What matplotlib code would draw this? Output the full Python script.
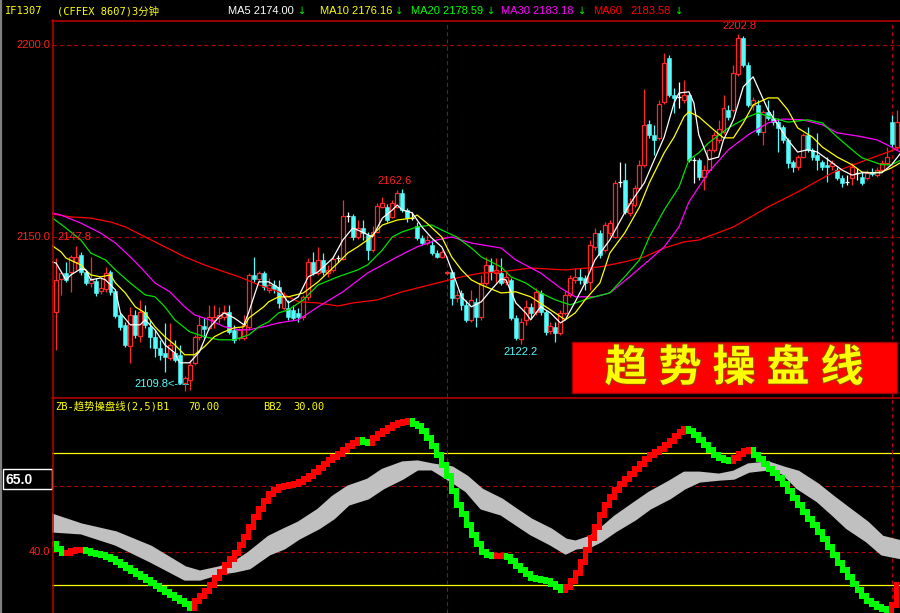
import matplotlib
matplotlib.use("Agg")
import matplotlib.pyplot as plt
from matplotlib.patches import Rectangle
from matplotlib.lines import Line2D
import matplotlib.patheffects as pe
import numpy as np

plt.rcParams['lines.scale_dashes'] = False

# ---------------- price bars (IF1307, 3-minute) ----------------
opens = [2130.5, 2139.1, 2140.6, 2140.9, 2143.5, 2145.3, 2140.9, 2138.0, 2138.5, 2135.9,
         2136.5, 2140.9, 2135.9, 2129.7, 2127.1, 2121.6, 2129.7, 2124.2, 2130.5, 2126.6,
         2124.0, 2121.1, 2119.8, 2118.5, 2119.8, 2119.3, 2112.0, 2112.8, 2117.2, 2124.0,
         2126.8, 2126.3, 2128.4, 2128.9, 2129.2, 2130.5, 2125.8, 2123.7, 2123.7, 2126.6,
         2140.1, 2139.1, 2140.6, 2136.2, 2137.5, 2137.0, 2131.5, 2131.5, 2131.0, 2130.2,
         2129.2, 2134.4, 2143.5, 2140.6, 2144.0, 2140.6, 2141.4, 2144.5, 2144.3, 2155.5,
         2155.5, 2150.0, 2152.3, 2150.5, 2146.6, 2151.3, 2157.8, 2157.8, 2155.2, 2157.8,
         2161.5, 2157.0, 2155.0, 2152.9, 2149.7, 2148.4, 2147.9, 2145.8, 2144.8, 2140.6,
         2140.9, 2134.1, 2135.4, 2132.3, 2128.4, 2133.1, 2129.2, 2138.0, 2142.7, 2140.6,
         2140.6, 2138.3, 2138.8, 2128.9, 2123.4, 2128.4, 2131.8, 2130.5, 2135.4, 2130.5,
         2125.5, 2126.6, 2125.0, 2130.2, 2134.9, 2138.8, 2139.6, 2139.3, 2138.3, 2147.4,
         2151.0, 2146.6, 2151.0, 2150.0, 2164.3, 2164.8, 2156.3, 2158.3, 2162.8, 2168.8,
         2179.4, 2176.6, 2175.8, 2185.2, 2196.6, 2187.0, 2186.5, 2185.7, 2187.0, 2170.1,
         2170.1, 2165.6, 2167.4, 2172.7, 2175.3, 2177.3, 2183.1, 2183.1, 2192.4, 2201.8,
         2194.8, 2184.4, 2184.4, 2177.3, 2182.6, 2181.0, 2180.0, 2178.6, 2175.3, 2169.5,
         2168.2, 2170.8, 2176.6, 2172.7, 2171.4, 2169.5, 2168.8, 2168.5, 2167.4, 2165.4,
         2164.3, 2165.4, 2166.6, 2165.6, 2165.4, 2166.9, 2166.1, 2167.4, 2169.3, 2180.0,
         2173.4]
highs = [2144.5, 2140.9, 2143.5, 2145.3, 2147.7, 2146.1, 2141.4, 2144.8, 2139.3, 2139.3,
         2142.2, 2141.4, 2136.2, 2130.5, 2127.9, 2131.8, 2131.0, 2133.6, 2132.3, 2128.4,
         2125.8, 2123.2, 2127.6, 2127.6, 2123.2, 2121.9, 2113.8, 2118.0, 2124.5, 2129.7,
         2128.9, 2132.3, 2132.3, 2131.8, 2132.3, 2132.3, 2127.1, 2126.3, 2129.7, 2140.6,
         2144.8, 2141.1, 2141.1, 2139.3, 2138.8, 2138.8, 2135.7, 2133.6, 2132.3, 2131.5,
         2134.9, 2144.5, 2146.1, 2147.4, 2145.8, 2142.7, 2145.0, 2145.3, 2159.6, 2156.5,
         2156.0, 2154.4, 2154.4, 2151.3, 2152.9, 2158.9, 2160.4, 2158.6, 2159.6, 2162.2,
         2162.6, 2157.6, 2156.5, 2153.9, 2150.5, 2150.5, 2149.2, 2146.6, 2146.6, 2141.1,
         2141.4, 2136.2, 2136.2, 2133.6, 2136.2, 2134.1, 2140.1, 2144.8, 2144.5, 2144.5,
         2144.5, 2140.9, 2139.3, 2129.7, 2128.9, 2133.6, 2132.8, 2136.7, 2136.2, 2131.0,
         2127.9, 2127.9, 2131.0, 2136.2, 2140.1, 2141.9, 2141.9, 2140.1, 2149.2, 2152.3,
         2151.8, 2153.9, 2154.4, 2164.8, 2169.5, 2169.3, 2160.2, 2163.5, 2170.1, 2188.5,
         2180.5, 2179.2, 2185.7, 2197.9, 2197.4, 2188.8, 2190.4, 2190.9, 2187.5, 2170.8,
         2170.6, 2168.8, 2173.2, 2177.3, 2180.5, 2187.0, 2184.4, 2194.8, 2202.8, 2202.3,
         2195.6, 2186.5, 2185.7, 2183.1, 2185.7, 2183.1, 2181.0, 2179.2, 2175.8, 2170.1,
         2171.4, 2177.1, 2178.6, 2173.2, 2177.1, 2170.1, 2170.8, 2170.1, 2168.2, 2166.1,
         2166.1, 2169.3, 2168.0, 2166.9, 2167.4, 2168.0, 2168.2, 2170.1, 2173.4, 2181.8,
         2183.1]
lows = [2120.6, 2134.9, 2138.3, 2135.7, 2141.4, 2140.1, 2137.5, 2137.0, 2134.6, 2135.2,
        2135.7, 2134.9, 2128.9, 2125.8, 2121.4, 2117.2, 2123.7, 2122.7, 2126.3, 2121.1,
        2118.8, 2118.0, 2114.9, 2118.0, 2117.5, 2111.7, 2109.8, 2110.2, 2116.7, 2123.2,
        2123.7, 2125.8, 2126.3, 2127.6, 2128.4, 2124.7, 2122.4, 2123.2, 2123.2, 2125.8,
        2138.3, 2138.3, 2136.2, 2135.4, 2135.4, 2131.5, 2131.0, 2128.4, 2128.4, 2127.9,
        2128.4, 2133.6, 2140.1, 2140.1, 2140.1, 2139.6, 2140.9, 2143.5, 2144.0, 2153.9,
        2149.2, 2149.5, 2149.2, 2144.0, 2146.1, 2151.0, 2157.6, 2153.9, 2155.0, 2157.6,
        2156.5, 2153.9, 2154.4, 2149.2, 2147.9, 2147.9, 2145.3, 2144.5, 2144.5, 2140.1,
        2132.3, 2133.1, 2131.0, 2127.9, 2127.9, 2126.6, 2128.4, 2137.5, 2138.8, 2138.0,
        2137.5, 2137.5, 2128.4, 2123.2, 2122.2, 2127.1, 2128.9, 2129.7, 2129.7, 2124.5,
        2124.7, 2122.7, 2124.5, 2129.7, 2134.4, 2138.0, 2137.8, 2136.2, 2136.2, 2146.6,
        2144.5, 2146.1, 2150.3, 2149.7, 2163.0, 2156.0, 2155.5, 2157.8, 2162.2, 2168.2,
        2175.8, 2171.4, 2175.3, 2184.6, 2186.5, 2182.3, 2183.6, 2184.9, 2169.5, 2164.1,
        2164.8, 2162.2, 2166.9, 2172.1, 2174.5, 2176.8, 2180.5, 2182.6, 2191.9, 2194.3,
        2183.9, 2183.1, 2176.6, 2174.0, 2180.5, 2179.2, 2172.1, 2174.5, 2168.0, 2166.9,
        2167.4, 2170.6, 2172.1, 2170.1, 2167.4, 2167.4, 2164.3, 2167.4, 2164.8, 2163.0,
        2163.5, 2163.5, 2164.8, 2163.5, 2164.8, 2165.9, 2165.6, 2166.9, 2168.8, 2173.4,
        2172.7]
closes = [2138.8, 2140.6, 2138.8, 2144.8, 2144.8, 2140.9, 2138.0, 2138.8, 2135.4, 2136.7,
          2140.6, 2135.7, 2129.4, 2126.6, 2121.9, 2129.7, 2124.5, 2130.5, 2127.1, 2124.0,
          2121.1, 2119.3, 2118.8, 2121.9, 2118.0, 2112.0, 2113.3, 2116.7, 2124.0, 2127.1,
          2126.0, 2129.2, 2129.2, 2129.7, 2130.5, 2125.3, 2123.2, 2125.8, 2127.1, 2140.1,
          2139.1, 2140.6, 2137.0, 2137.5, 2136.5, 2132.8, 2134.4, 2129.2, 2128.9, 2129.2,
          2134.4, 2143.5, 2140.6, 2144.0, 2140.9, 2141.4, 2144.3, 2144.5, 2155.5, 2155.5,
          2150.0, 2152.3, 2151.0, 2146.6, 2151.3, 2158.1, 2158.9, 2154.4, 2158.9, 2161.5,
          2157.0, 2154.9, 2155.0, 2149.7, 2148.4, 2149.2, 2145.8, 2144.8, 2146.1, 2140.8,
          2134.1, 2134.9, 2132.3, 2128.4, 2133.6, 2129.2, 2138.0, 2142.7, 2140.9, 2141.4,
          2138.0, 2139.6, 2128.9, 2123.7, 2127.9, 2131.8, 2130.2, 2135.7, 2130.5, 2125.3,
          2126.8, 2125.0, 2130.2, 2134.9, 2139.3, 2139.6, 2138.8, 2138.0, 2147.9, 2151.0,
          2145.3, 2153.1, 2153.6, 2164.1, 2164.3, 2156.5, 2158.9, 2162.8, 2168.8, 2179.2,
          2176.6, 2175.3, 2184.6, 2195.3, 2187.0, 2186.2, 2186.5, 2187.0, 2170.1, 2170.1,
          2165.6, 2167.4, 2172.7, 2176.6, 2178.1, 2183.6, 2181.3, 2192.7, 2201.8, 2194.8,
          2184.4, 2185.7, 2177.3, 2182.6, 2181.0, 2180.0, 2178.4, 2175.3, 2169.3, 2168.2,
          2170.8, 2176.6, 2172.7, 2170.8, 2170.1, 2168.2, 2168.2, 2169.3, 2165.4, 2164.1,
          2164.3, 2168.2, 2166.6, 2164.1, 2166.7, 2166.4, 2167.4, 2169.3, 2170.8, 2174.2,
          2180.0]

# ---------------- moving averages (bar index, value) ----------------
ma5_bars = [-1, 0, 2, 3, 5, 6, 7, 9, 10, 12, 13, 15, 17, 18, 20, 22, 24, 25, 27, 29,
            31, 33, 34, 36, 38, 39, 41, 43, 45, 47, 49, 51, 53, 56, 58, 60, 61, 64, 66, 68,
            69, 70, 72, 74, 76, 78, 79, 81, 82, 84, 86, 88, 90, 91, 93, 95, 96, 98, 100, 102,
            103, 105, 107, 109, 112, 115, 117, 119, 121, 123, 125, 126, 128, 129, 130, 132,
            134, 135, 137, 139, 141, 142, 144, 146, 148, 150, 152, 154, 157, 159, 161, 163,
            165, 167, 169, 171]
ma5_vals = [2143.5, 2143.2, 2138.8, 2140.1, 2141.7, 2141.4, 2138.8, 2139.3, 2138.8, 2136.2,
            2130.2, 2127.1, 2127.1, 2128.4, 2125.8, 2121.9, 2119.8, 2117.2, 2117.2, 2120.1,
            2126.3, 2129.2, 2130.2, 2128.9, 2127.1, 2130.5, 2138.3, 2138.3, 2136.7, 2132.8,
            2134.4, 2139.6, 2140.9, 2144.5, 2149.2, 2152.3, 2151.8, 2150.0, 2154.9, 2157.0,
            2158.3, 2157.0, 2156.3, 2152.6, 2149.7, 2147.4, 2144.8, 2138.0, 2134.4, 2131.8,
            2133.1, 2136.2, 2139.1, 2138.8, 2132.8, 2130.2, 2128.4, 2131.8, 2130.2, 2127.6,
            2128.4, 2133.1, 2138.0, 2144.0, 2149.2, 2156.3, 2160.4, 2164.1, 2170.1, 2176.0,
            2184.9, 2187.5, 2187.8, 2184.9, 2176.6, 2170.1, 2170.8, 2175.3, 2180.5, 2189.1,
            2191.7, 2188.8, 2183.1, 2179.2, 2175.3, 2172.1, 2172.7, 2172.1, 2169.3, 2167.4,
            2166.1, 2166.7, 2166.7, 2166.7, 2168.8, 2172.1]

ma10_bars = [-1, 1, 2, 5, 7, 9, 11, 12, 14, 16, 18, 20, 22, 24, 26, 28, 30, 32, 34, 36,
             38, 39, 42, 43, 45, 47, 50, 53, 57, 59, 61, 63, 66, 69, 72, 73, 75, 78, 80, 82,
             84, 86, 90, 93, 96, 100, 103, 105, 107, 110, 112, 115, 118, 120, 123, 125, 127,
             128, 130, 133, 135, 137, 139, 141, 144, 146, 148, 150, 153, 155, 158, 161, 163,
             165, 167, 169, 171]
ma10_vals = [2147.9, 2146.1, 2144.5, 2142.7, 2140.1, 2139.6, 2140.1, 2138.0, 2135.4, 2131.8,
             2130.2, 2126.6, 2124.0, 2121.9, 2119.3, 2119.3, 2121.4, 2124.0, 2125.3, 2126.3,
             2126.6, 2128.9, 2131.8, 2133.1, 2134.4, 2134.4, 2135.4, 2138.3, 2143.2, 2145.8,
             2147.4, 2149.2, 2153.1, 2154.4, 2154.9, 2155.7, 2153.6, 2150.0, 2144.8, 2141.4,
             2138.8, 2137.5, 2135.4, 2135.7, 2134.4, 2131.0, 2128.4, 2130.2, 2133.6, 2138.0,
             2145.8, 2151.0, 2157.8, 2164.1, 2171.9, 2176.0, 2181.3, 2182.6, 2181.3, 2177.9,
             2175.8, 2175.8, 2179.7, 2184.4, 2186.2, 2186.2, 2183.1, 2178.4, 2176.0, 2173.4,
             2170.8, 2168.8, 2166.9, 2166.7, 2166.9, 2168.0, 2169.5]

ma20_bars = [-1, 2, 5, 7, 10, 12, 15, 18, 20, 22, 24, 27, 30, 33, 36, 39, 41, 43, 45, 47,
             50, 53, 57, 61, 63, 66, 68, 70, 73, 76, 78, 81, 84, 86, 90, 92, 95, 98, 101, 104,
             108, 112, 115, 118, 120, 123, 126, 128, 130, 132, 136, 140, 142, 145, 148, 152,
             155, 158, 161, 163, 167, 169, 171]
ma20_vals = [2155.2, 2152.3, 2149.2, 2145.8, 2144.0, 2141.4, 2138.0, 2134.9, 2134.4, 2131.8,
             2128.4, 2125.3, 2124.0, 2123.2, 2123.2, 2124.5, 2126.6, 2127.9, 2130.2, 2131.0,
             2133.6, 2137.5, 2139.6, 2141.4, 2142.7, 2146.6, 2150.0, 2151.3, 2152.6, 2153.1,
             2151.8, 2150.0, 2147.1, 2144.8, 2142.2, 2139.6, 2138.0, 2135.4, 2133.6, 2132.3,
             2134.1, 2135.4, 2139.6, 2144.0, 2150.0, 2157.0, 2163.0, 2170.1, 2171.9, 2174.5,
             2178.4, 2181.3, 2182.3, 2181.0, 2179.9, 2180.5, 2179.7, 2176.0, 2172.7, 2170.6,
             2168.8, 2168.8, 2170.1]

ma30_bars = [-1, 1, 5, 9, 12, 15, 17, 20, 23, 26, 28, 31, 34, 37, 39, 42, 45, 49, 53, 58,
             63, 69, 73, 77, 80, 84, 90, 93, 98, 102, 105, 109, 112, 116, 120, 123, 126, 128,
             130, 132, 136, 140, 144, 147, 151, 155, 158, 162, 166, 169, 171]
ma30_vals = [2156.3, 2155.7, 2153.6, 2151.0, 2148.4, 2144.8, 2142.2, 2138.0, 2135.7, 2131.8,
             2129.7, 2128.4, 2126.6, 2125.8, 2125.8, 2126.6, 2127.6, 2128.4, 2131.8, 2135.7,
             2140.6, 2144.8, 2147.4, 2149.2, 2150.0, 2148.4, 2147.1, 2144.0, 2140.6, 2136.7,
             2134.4, 2134.4, 2135.4, 2139.6, 2144.0, 2147.4, 2152.6, 2159.1, 2163.0, 2166.9,
             2172.7, 2176.6, 2179.7, 2180.7, 2180.5, 2179.2, 2177.1, 2176.3, 2175.3, 2173.4,
             2171.9]

ma60_bars = [-1, 3, 7, 11, 14, 18, 22, 26, 30, 34, 37, 41, 45, 49, 53, 57, 60, 65, 70, 74,
             78, 82, 86, 90, 96, 103, 110, 115, 119, 123, 127, 130, 137, 144, 150, 157, 164, 171]
ma60_vals = [2156.0, 2155.2, 2154.9, 2153.9, 2152.6, 2150.0, 2147.4, 2144.8, 2142.7, 2140.9,
             2139.6, 2137.5, 2135.7, 2133.1, 2132.8, 2132.0, 2132.8, 2133.6, 2135.7, 2137.0,
             2138.3, 2139.6, 2140.6, 2140.9, 2141.9, 2141.4, 2142.2, 2143.5, 2144.8, 2147.1,
             2148.7, 2149.2, 2152.6, 2157.8, 2161.7, 2166.7, 2170.1, 2173.4]

# ---------------- ZB trend indicator ----------------
# trend line, one value per bar starting at bar -1
trend_vals = [42.4, 40.9, 39.7, 39.7, 40.3, 40.6, 40.6, 40.3, 39.7, 39.4, 39.1,
              38.5, 37.9, 37.0, 36.0, 35.2, 34.2, 33.3, 32.4, 31.5, 30.6,
              29.7, 28.8, 27.9, 27.0, 26.1, 25.2, 24.2, 23.0, 25.0, 26.7,
              28.2, 30.0, 32.1, 34.0, 36.0, 37.8, 39.7, 42.0, 44.5, 47.5,
              50.6, 53.0, 55.5, 57.6, 58.8, 59.7, 60.0, 60.3, 60.6, 61.2,
              62.1, 63.0, 64.2, 65.5, 66.7, 67.9, 68.8, 69.7, 70.9, 72.0,
              73.0, 73.9, 73.3, 73.0, 74.5, 75.8, 76.7, 77.6, 78.5, 79.1,
              79.4, 79.7, 78.8, 78.2, 76.7, 74.5, 72.0, 69.4, 66.4, 63.0,
              58.5, 54.2, 51.5, 48.2, 45.2, 42.4, 40.0, 39.1, 38.8, 38.8,
              38.8, 38.5, 37.3, 35.8, 34.5, 33.3, 32.1, 31.8, 31.5, 31.2,
              30.3, 29.4, 28.5, 29.4, 31.2, 33.6, 37.0, 40.6, 44.2, 47.6,
              51.2, 54.2, 56.7, 58.8, 60.6, 62.1, 63.6, 65.2, 66.7, 68.2,
              69.4, 70.3, 71.2, 72.4, 73.6, 75.2, 76.4, 77.3, 76.7, 75.5,
              74.0, 72.4, 70.9, 69.4, 68.5, 67.9, 67.6, 68.5, 69.7, 70.6,
              70.9, 69.4, 68.2, 66.7, 65.2, 63.9, 62.4, 60.6, 58.5, 56.4,
              54.2, 52.1, 50.0, 48.2, 46.1, 43.9, 41.5, 39.1, 36.7, 34.5,
              32.4, 30.3, 28.5, 26.7, 25.2, 24.2, 23.3, 22.7, 22.4, 23.9,
              30.0]
band_bars = [-1, 5, 12, 19, 26, 29, 33, 36, 39, 43, 46, 49, 53, 56, 59, 63, 66, 70, 73, 76,
             80, 83, 86, 90, 93, 96, 100, 103, 105, 108, 110, 113, 117, 120, 124, 127, 130,
             134, 137, 140, 144, 147, 150, 154, 157, 160, 164, 167, 171]
band_upper = [51.2, 48.2, 45.8, 41.5, 35.2, 33.9, 35.2, 36.7, 39.7, 44.5, 46.7, 48.8, 52.7,
              56.7, 59.7, 61.8, 64.8, 67.0, 67.3, 66.4, 65.5, 62.7, 58.8, 55.8, 52.7, 49.7,
              46.7, 43.6, 43.0, 44.5, 46.7, 50.6, 54.8, 57.9, 61.2, 63.9, 63.9, 63.3, 64.2,
              66.4, 67.0, 65.5, 64.2, 60.3, 56.7, 53.3, 48.8, 44.5, 43.0]
band_lower = [46.7, 46.1, 42.7, 37.6, 32.1, 32.1, 33.9, 34.5, 35.5, 39.7, 41.5, 44.5, 47.6,
              50.6, 54.8, 56.7, 59.7, 62.7, 65.5, 65.5, 61.8, 58.8, 53.6, 51.8, 48.8, 45.8,
              42.7, 40.0, 41.5, 42.1, 43.6, 46.7, 50.3, 53.6, 56.7, 59.7, 61.8, 62.4, 62.7,
              64.8, 65.5, 64.2, 59.7, 55.8, 51.8, 47.6, 43.6, 39.7, 38.5]

price_ticks = [2200.0, 2150.0]
ind_ticks = [60.0, 40.0]
ind_levels = [70.0, 30.0]
day_breaks = [79, 169]

# ---------------- colours ----------------
BG = 'black'
UP = '#ff2828'
DOWN = '#54fcfc'
FRAME = '#c00000'
GRID = '#b00000'
LBL = '#ff2020'
NUM = ['Liberation Sans', 'DejaVu Sans']
MONO = ['DejaVu Sans Mono', 'Noto Sans CJK SC']

W, H = 900, 613
fig = plt.figure(figsize=(W / 100, H / 100), dpi=100, facecolor=BG)


def fx(px):
    return px / W


def fy(py):
    return 1 - py / H


ax = fig.add_axes([fx(52), fy(397), fx(900) - fx(52), fy(20) - fy(397)])
ax2 = fig.add_axes([fx(52), fy(613), fx(900) - fx(52), fy(397) - fy(613)])
for a in (ax, ax2):
    a.set_facecolor(BG)
    a.set_xlim(-0.83, 170.7)
    a.set_xticks([])
    a.set_yticks([])
    for s in a.spines.values():
        s.set_visible(False)
ax.set_ylim(2108.3, 2206.5)
ax2.set_ylim(21.5, 87.0)

dash = (0, (3.0, 2.2))
# grid
for v in price_ticks:
    ax.axhline(v, color=GRID, lw=0.8, ls=dash, zorder=1)
for v in ind_ticks:
    ax2.axhline(v, color=GRID, lw=0.8, ls=dash, zorder=1)
for v in ind_levels:
    ax2.axhline(v, color='#ffff00', lw=0.9, zorder=1)
for b in day_breaks:
    ax.axvline(b, color=GRID, lw=0.8, ls=dash, zorder=1)
    ax2.axvline(b, color=GRID, lw=0.8, ls=dash, zorder=1)

# candles
bw = 0.8
for i in range(len(closes)):
    o, h, l, c = opens[i], highs[i], lows[i], closes[i]
    if c > o:
        ax.vlines(i, c, h, color=UP, lw=0.9, zorder=3)
        ax.vlines(i, l, o, color=UP, lw=0.9, zorder=3)
        ax.add_patch(Rectangle((i - bw / 2, o), bw, c - o, facecolor=BG,
                               edgecolor=UP, lw=0.9, zorder=3))
    elif c < o:
        ax.vlines(i, l, h, color=DOWN, lw=0.9, zorder=3)
        ax.add_patch(Rectangle((i - bw / 2, c), bw, o - c, facecolor=DOWN,
                               edgecolor=DOWN, lw=0.4, zorder=3))
    else:
        ax.vlines(i, l, h, color='white', lw=0.9, zorder=3)
        ax.hlines(c, i - bw / 2, i + bw / 2, color='white', lw=0.9, zorder=3)

# moving averages
ax.plot(ma60_bars, ma60_vals, color='#ff0000', lw=0.9, zorder=4)
ax.plot(ma30_bars, ma30_vals, color='#ff00ff', lw=0.9, zorder=4)
ax.plot(ma20_bars, ma20_vals, color='#00e000', lw=0.9, zorder=4)
ax.plot(ma10_bars, ma10_vals, color='#ffff00', lw=0.9, zorder=4)
ax.plot(ma5_bars, ma5_vals, color='#ffffff', lw=0.9, zorder=4)

# indicator: grey band and stepped trend line
ax2.fill_between(band_bars, band_lower, band_upper, facecolor='#c0c0c0',
                 edgecolor='#c0c0c0', lw=3.0, zorder=2)
tb = np.arange(-1, len(trend_vals) - 1)
tv = np.array(trend_vals)
prev = np.concatenate([[tv[0]], tv[:-1]])
lo = np.minimum(prev, tv) - 0.9
hi = np.maximum(prev, tv) + 0.9
cols = ['#ff0000' if cur >= p else '#00ff00' for cur, p in zip(tv, prev)]
ax2.bar(tb, hi - lo, bottom=lo, width=1.0, color=cols, lw=0, zorder=3)

# frame lines
fig.add_artist(Line2D([fx(52), fx(900)], [fy(20.5), fy(20.5)], color=FRAME, lw=1.1))
fig.add_artist(Line2D([fx(52), fx(900)], [fy(397.5), fy(397.5)], color=FRAME, lw=1.1))
fig.add_artist(Line2D([fx(52.5), fx(52.5)], [fy(20), fy(613)], color=FRAME, lw=1.1))
fig.add_artist(Line2D([fx(1), fx(1)], [fy(0), fy(613)], color='#808080', lw=1.6))

# axis labels
for v in price_ticks:
    ax.annotate(f'{v:.1f}', (0, v), xycoords=('axes fraction', 'data'),
                xytext=(-2, 0), textcoords='offset pixels', ha='right', va='center',
                color=LBL, fontsize=8, family=NUM)
for v in ind_ticks:
    ax2.annotate(f'{v:.1f}', (0, v), xycoords=('axes fraction', 'data'),
                 xytext=(-2, 0), textcoords='offset pixels', ha='right', va='center',
                 color=LBL, fontsize=8, family=NUM)

# value box over the indicator scale
fig.add_artist(Rectangle((fx(3), fy(489)), fx(49), fy(469) - fy(489), facecolor='black',
                         edgecolor='white', lw=1.0, transform=fig.transFigure))
fig.text(fx(5), fy(479.5), '65.0', color='white', fontsize=10, fontweight='bold',
         family=NUM, ha='left', va='center')

# price annotations
ax.annotate('2202.8', (138, 2202.8), xytext=(1, 8), textcoords='offset pixels',
            ha='center', va='center', color=LBL, fontsize=8, family=NUM)
ax.annotate('2162.6', (70, 2162.6), xytext=(-8, 8), textcoords='offset pixels',
            ha='center', va='center', color=LBL, fontsize=8, family=NUM)
ax.annotate('2122.2', (94, 2122.2), xytext=(0, -8), textcoords='offset pixels',
            ha='center', va='center', color=DOWN, fontsize=8, family=NUM)
ax.annotate('2109.8<----', (26, 2109.8), xytext=(5, 7), textcoords='offset pixels',
            ha='right', va='center', color=DOWN, fontsize=8, family=NUM)
fig.text(fx(57), fy(237), '2147.8', color=LBL, fontsize=8, family=NUM,
         ha='left', va='center')

# header line
hy = fy(11)
fig.text(fx(5), hy, 'IF1307', color='#ffff00', fontsize=7.5, family=MONO, va='center')
fig.text(fx(57), hy, '(CFFEX 8607)3分钟', color='#ffff00', fontsize=7.5, family=MONO,
         va='center')
heads = [(228, 'MA5 2174.00', '#ffffff', 298),
         (320, 'MA10 2176.16', '#ffff00', 395),
         (411, 'MA20 2178.59', '#00ff00', 487),
         (501, 'MA30 2183.18', '#ff00ff', 578)]
for x0, s, c, xa in heads:
    fig.text(fx(x0), hy, s, color=c, fontsize=8, family=NUM, va='center')
    fig.text(fx(xa), hy, '↓', color='#00ff00', fontsize=7, family=['DejaVu Sans'],
             va='center')
fig.text(fx(593), hy, 'MA60', color='#ff0000', fontsize=8, family=NUM, va='center')
fig.text(fx(630), hy, '2183.58', color='#ff0000', fontsize=8, family=NUM, va='center')
fig.text(fx(675), hy, '↓', color='#00ff00', fontsize=7, family=['DejaVu Sans'],
         va='center')

# indicator header
iy = fy(406.5)
fig.text(fx(55), iy, 'ZB-趋势操盘线(2,5)B1', color='#ffff00', fontsize=7.5,
         family=MONO, va='center')
fig.text(fx(188), iy, '70.00', color='#ffff00', fontsize=7.5, family=MONO, va='center')
fig.text(fx(263), iy, 'BB2', color='#ffff00', fontsize=7.5, family=MONO, va='center')
fig.text(fx(293), iy, '30.00', color='#ffff00', fontsize=7.5, family=MONO, va='center')

# title plate
fig.add_artist(Rectangle((fx(572), fy(393)), fx(325), fy(342) - fy(393), facecolor='#ff0000',
                         edgecolor='#a00000', lw=1.0, transform=fig.transFigure))
for k, ch in enumerate('趋势操盘线'):
    fig.text(fx(626 + 54 * k), fy(368), ch, color='#ffff00', fontsize=31,
             fontweight='black', family=['Noto Sans CJK SC'], ha='center', va='center',
             path_effects=[pe.withStroke(linewidth=1.5, foreground='#a04000')])

fig.savefig('out.png', dpi=100, facecolor=BG)
